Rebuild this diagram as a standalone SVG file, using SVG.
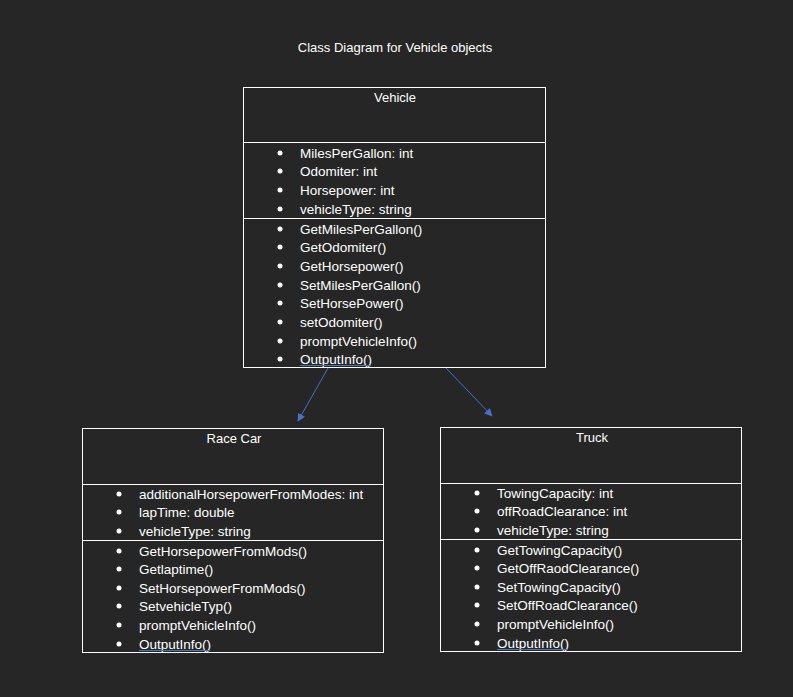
<svg xmlns="http://www.w3.org/2000/svg" width="793" height="697" viewBox="0 0 793 697">
<defs>
<style>
text{font-family:"Liberation Sans",Arial,sans-serif;font-size:13.5px;fill:#ffffff}
.t{text-anchor:middle;font-size:13px}
.box{fill:#262626;stroke:#ffffff;stroke-width:1}
.div{stroke:#ffffff;stroke-width:1}
.conn{stroke:#4472c4;stroke-width:1;fill:none}
.ul{stroke:#4472c4;stroke-width:1}
</style>
<marker id="ah" viewBox="0 0 10 10" refX="9" refY="5" markerWidth="8" markerHeight="8" orient="auto" markerUnits="userSpaceOnUse">
<path d="M0,0 L10,5 L0,10 z" fill="#4472c4"/>
</marker>
<circle id="b" r="2.5" fill="#ffffff"/>
</defs>
<rect width="793" height="697" fill="#262626"/>
<text class="t" x="395" y="52">Class Diagram for Vehicle objects</text>

<g id="vehicle">
<rect class="box" x="243.5" y="87.5" width="302" height="280"/>
<line class="div" x1="243.5" y1="142.5" x2="545.5" y2="142.5"/>
<line class="div" x1="243.5" y1="218.5" x2="545.5" y2="218.5"/>
<text class="t" x="395" y="102">Vehicle</text>
<use href="#b" x="280" y="153"/><text x="300" y="158">MilesPerGallon: int</text>
<use href="#b" x="280" y="171"/><text x="300" y="176">Odomiter: int</text>
<use href="#b" x="280" y="190"/><text x="300" y="195">Horsepower: int</text>
<use href="#b" x="280" y="209"/><text x="300" y="214">vehicleType: string</text>
<use href="#b" x="280" y="229"/><text x="300" y="234">GetMilesPerGallon()</text>
<use href="#b" x="280" y="247"/><text x="300" y="252">GetOdomiter()</text>
<use href="#b" x="280" y="266"/><text x="300" y="271">GetHorsepower()</text>
<use href="#b" x="280" y="285"/><text x="300" y="290">SetMilesPerGallon()</text>
<use href="#b" x="280" y="303"/><text x="300" y="308">SetHorsePower()</text>
<use href="#b" x="280" y="322"/><text x="300" y="327">setOdomiter()</text>
<use href="#b" x="280" y="341"/><text x="300" y="346">promptVehicleInfo()</text>
<use href="#b" x="280" y="359"/><text x="300" y="364">OutputInfo()</text>
<line class="ul" x1="300" y1="365.5" x2="371" y2="365.5"/>
</g>

<g id="racecar">
<rect class="box" x="82.5" y="428.5" width="301" height="224"/>
<line class="div" x1="82.5" y1="484.5" x2="383.5" y2="484.5"/>
<line class="div" x1="82.5" y1="540.5" x2="383.5" y2="540.5"/>
<text class="t" x="234" y="443">Race Car</text>
<use href="#b" x="119" y="494"/><text x="139" y="499">additionalHorsepowerFromModes: int</text>
<use href="#b" x="119" y="512"/><text x="139" y="517">lapTime: double</text>
<use href="#b" x="119" y="531"/><text x="139" y="536">vehicleType: string</text>
<use href="#b" x="119" y="551"/><text x="139" y="556">GetHorsepowerFromMods()</text>
<use href="#b" x="119" y="569"/><text x="139" y="574">Getlaptime()</text>
<use href="#b" x="119" y="588"/><text x="139" y="593">SetHorsepowerFromMods()</text>
<use href="#b" x="119" y="606"/><text x="139" y="611">SetvehicleTyp()</text>
<use href="#b" x="119" y="625"/><text x="139" y="630">promptVehicleInfo()</text>
<use href="#b" x="119" y="644"/><text x="139" y="649">OutputInfo()</text>
<line class="ul" x1="139" y1="650.5" x2="210" y2="650.5"/>
</g>

<g id="truck">
<rect class="box" x="440.5" y="427.5" width="301" height="224"/>
<line class="div" x1="440.5" y1="483.5" x2="741.5" y2="483.5"/>
<line class="div" x1="440.5" y1="539.5" x2="741.5" y2="539.5"/>
<text class="t" x="592" y="442">Truck</text>
<use href="#b" x="477" y="493"/><text x="497" y="498">TowingCapacity: int</text>
<use href="#b" x="477" y="511"/><text x="497" y="516">offRoadClearance: int</text>
<use href="#b" x="477" y="530"/><text x="497" y="535">vehicleType: string</text>
<use href="#b" x="477" y="550"/><text x="497" y="555">GetTowingCapacity()</text>
<use href="#b" x="477" y="568"/><text x="497" y="573">GetOffRaodClearance()</text>
<use href="#b" x="477" y="587"/><text x="497" y="592">SetTowingCapacity()</text>
<use href="#b" x="477" y="605"/><text x="497" y="610">SetOffRoadClearance()</text>
<use href="#b" x="477" y="624"/><text x="497" y="629">promptVehicleInfo()</text>
<use href="#b" x="477" y="643"/><text x="497" y="648">OutputInfo()</text>
<line class="ul" x1="497" y1="649.5" x2="568" y2="649.5"/>
</g>

<g id="connectors">
<line class="conn" x1="328" y1="368" x2="298" y2="421" marker-end="url(#ah)"/>
<line class="conn" x1="446" y1="368" x2="492" y2="416" marker-end="url(#ah)"/>
</g>
</svg>
